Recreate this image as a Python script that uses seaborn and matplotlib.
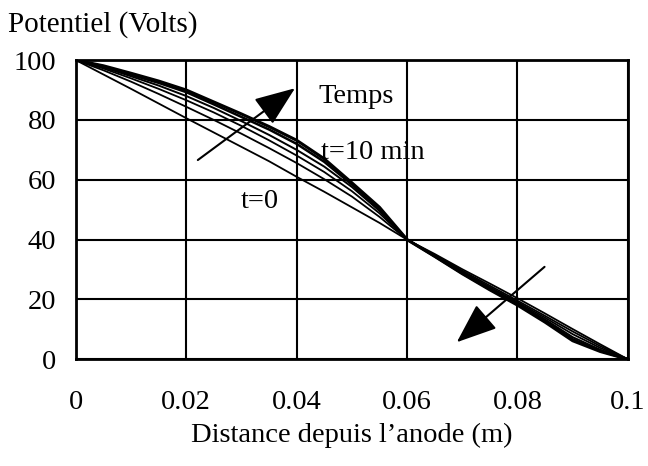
import matplotlib
matplotlib.use("Agg")
import matplotlib.pyplot as plt
import seaborn as sns
import pandas as pd

# distance from the anode (m)
distance = [0, 0.005, 0.01, 0.015, 0.02, 0.025, 0.03, 0.035, 0.04, 0.045, 0.05,
            0.055, 0.06, 0.065, 0.07, 0.075, 0.08, 0.085, 0.09, 0.095, 0.1]

# potential (V) at successive times, t=0 first, t=10 min last
v_t0 = [100, 95.2, 90.4, 85.5, 80.6, 75.8, 71.0, 66.2, 61.0, 56.0, 50.8,
        45.6, 40.0, 35.2, 30.1, 25.3, 20.4, 15.3, 10.1, 5.0, 0]
v_t2 = [100, 96.6, 92.8, 88.7, 84.4, 80.0, 75.4, 70.6, 65.6, 60.2, 54.4,
        47.6, 40.0, 34.9, 29.6, 24.6, 19.6, 14.5, 9.3, 4.4, 0]
v_t4 = [100, 97.2, 93.9, 90.4, 86.6, 82.5, 78.0, 73.2, 68.1, 62.6, 56.2,
        48.8, 40.0, 34.6, 29.2, 24.1, 19.1, 13.9, 8.4, 3.8, 0]
v_t6 = [100, 97.6, 94.6, 91.5, 88.0, 84.0, 79.6, 75.0, 70.0, 64.4, 57.6,
        49.6, 40.0, 34.5, 29.0, 23.7, 18.7, 13.3, 7.4, 3.2, 0]
v_t8 = [100, 97.9, 95.1, 92.4, 89.3, 85.2, 81.0, 76.8, 72.0, 66.0, 58.4,
        50.2, 40.0, 34.4, 28.7, 23.4, 18.3, 12.8, 6.7, 2.8, 0]
v_t10 = [100, 98.1, 95.6, 93.0, 90.0, 86.0, 82.0, 77.8, 73.2, 67.0, 59.0,
         50.8, 40.0, 34.4, 28.6, 23.2, 18.1, 12.4, 6.2, 2.6, 0]

series = [v_t0, v_t2, v_t4, v_t6, v_t8, v_t10]
widths = [1.3, 1.3, 1.3, 1.4, 1.8, 2.2]

x_ticks = [0, 0.02, 0.04, 0.06, 0.08, 0.1]
x_labels = ["0", "0.02", "0.04", "0.06", "0.08", "0.1"]
y_ticks = [0, 20, 40, 60, 80, 100]

sns.set_theme(style="white")
plt.rcParams["font.family"] = ["Liberation Serif", "DejaVu Serif"]
plt.rcParams["text.color"] = "black"

fig = plt.figure(figsize=(6.48, 4.66), dpi=100)
ax = fig.add_axes([0.117, 0.229, 0.852, 0.642])

for vals, lw in zip(series, widths):
    df = pd.DataFrame({"x": distance, "v": vals})
    sns.lineplot(data=df, x="x", y="v", ax=ax, color="black", lw=lw)

ax.set_xlim(0, 0.1)
ax.set_ylim(0, 100)
ax.set_xticks(x_ticks)
ax.set_xticklabels(x_labels)
ax.set_yticks(y_ticks)
ax.grid(True, color="black", lw=1.5)
ax.tick_params(axis="both", length=0, labelsize=20.5, colors="black")
ax.tick_params(axis="x", pad=22)
ax.tick_params(axis="y", pad=14)
for s in ax.spines.values():
    s.set_color("black")
    s.set_linewidth(2)
ax.set_xlabel("")
ax.set_ylabel("")

fig.text(0.012, 0.948, "Potentiel (Volts)", fontsize=21, ha="left", va="center",
         color="black")
fig.text(0.543, 0.066, "Distance depuis l\u2019anode (m)", fontsize=20.5,
         ha="center", va="center", color="black")

ax.text(0.0507, 88, "Temps", fontsize=20.5, ha="center", va="center", color="black")
ax.text(0.0538, 69, "t=10 min", fontsize=20.5, ha="center", va="center", color="black")
ax.text(0.0333, 52.8, "t=0", fontsize=20.5, ha="center", va="center", color="black")

arrow = dict(arrowstyle="-|>,head_length=0.9,head_width=0.35", mutation_scale=28,
             color="black", lw=1.5, shrinkA=0, shrinkB=0)
ax.annotate("", xy=(0.0397, 90.6), xytext=(0.0221, 66.6), arrowprops=arrow)
ax.annotate("", xy=(0.069, 5.7), xytext=(0.0849, 30.9), arrowprops=arrow)

fig.savefig("out.png", dpi=100)
